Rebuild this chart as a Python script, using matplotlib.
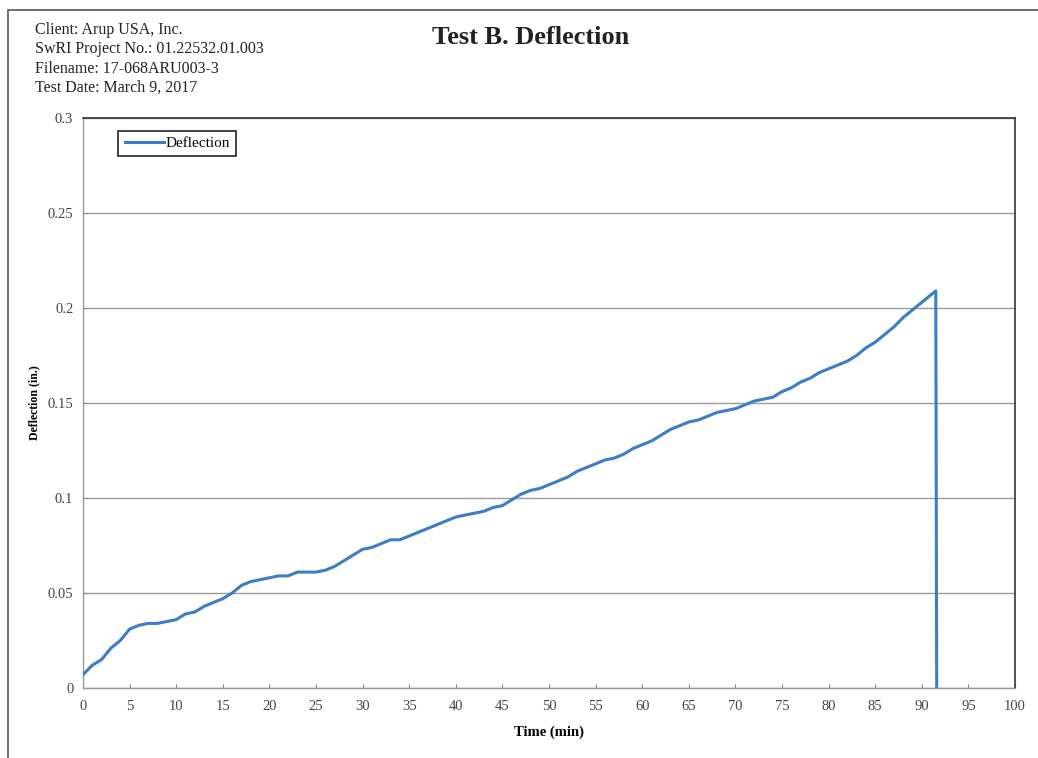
import matplotlib.pyplot as plt
from matplotlib.patches import Rectangle

# deflection record, one reading per minute, then failure at ~91.6 min
time_min = [0, 1, 2, 3, 4, 5, 6, 7, 8, 9,
            10, 11, 12, 13, 14, 15, 16, 17, 18, 19,
            20, 21, 22, 23, 24, 25, 26, 27, 28, 29,
            30, 31, 32, 33, 34, 35, 36, 37, 38, 39,
            40, 41, 42, 43, 44, 45, 46, 47, 48, 49,
            50, 51, 52, 53, 54, 55, 56, 57, 58, 59,
            60, 61, 62, 63, 64, 65, 66, 67, 68, 69,
            70, 71, 72, 73, 74, 75, 76, 77, 78, 79,
            80, 81, 82, 83, 84, 85, 86, 87, 88, 89,
            90, 91, 91.5, 91.6]
deflection = [0.007, 0.012, 0.015, 0.021, 0.025, 0.031, 0.033, 0.034, 0.034, 0.035,
              0.036, 0.039, 0.040, 0.043, 0.045, 0.047, 0.050, 0.054, 0.056, 0.057,
              0.058, 0.059, 0.059, 0.061, 0.061, 0.061, 0.062, 0.064, 0.067, 0.070,
              0.073, 0.074, 0.076, 0.078, 0.078, 0.080, 0.082, 0.084, 0.086, 0.088,
              0.090, 0.091, 0.092, 0.093, 0.095, 0.096, 0.099, 0.102, 0.104, 0.105,
              0.107, 0.109, 0.111, 0.114, 0.116, 0.118, 0.120, 0.121, 0.123, 0.126,
              0.128, 0.130, 0.133, 0.136, 0.138, 0.140, 0.141, 0.143, 0.145, 0.146,
              0.147, 0.149, 0.151, 0.152, 0.153, 0.156, 0.158, 0.161, 0.163, 0.166,
              0.168, 0.170, 0.172, 0.175, 0.179, 0.182, 0.186, 0.190, 0.195, 0.199,
              0.203, 0.207, 0.209, 0.0]

x_ticks = list(range(0, 101, 5))
y_ticks = [0, 0.05, 0.1, 0.15, 0.2, 0.25, 0.3]
y_tick_labels = ['0', '0.05', '0.1', '0.15', '0.2', '0.25', '0.3']

header = ['Client: Arup USA, Inc.',
          'SwRI Project No.: 01.22532.01.003',
          'Filename: 17-068ARU003-3',
          'Test Date: March 9, 2017']

plt.rcParams['font.family'] = ['Liberation Serif', 'DejaVu Serif']

fig = plt.figure(figsize=(10.38, 7.58), dpi=100)
fig.patch.set_facecolor('white')

# outer chart frame
fig.add_artist(Rectangle((8 / 1038, -0.01), 1.1, 1 - 10 / 758 + 0.01,
                         transform=fig.transFigure, fill=False,
                         edgecolor='#555555', linewidth=1.2))

ax = fig.add_axes([83 / 1038, 1 - 688 / 758, (1015 - 83) / 1038, (688 - 118) / 758])

ax.plot(time_min, deflection, color='#3B7DC8', linewidth=2.2,
        label='Deflection', zorder=3)

ax.set_xlim(0, 100)
ax.set_ylim(0, 0.3)
ax.set_xticks(x_ticks)
ax.set_yticks(y_ticks)
ax.set_yticklabels(y_tick_labels)
ax.grid(axis='y', color='#9A9A9A', linewidth=1.0, zorder=0)
ax.tick_params(axis='both', labelsize=10.5, labelcolor='#444444',
               color='#888888', direction='in', length=3)
ax.tick_params(axis='x', pad=9)
ax.tick_params(axis='y', pad=7)

for side in ['top', 'right']:
    ax.spines[side].set_color('#333333')
    ax.spines[side].set_linewidth(1.2)
for side in ['left', 'bottom']:
    ax.spines[side].set_color('#999999')
    ax.spines[side].set_linewidth(1.0)

ax.set_xlabel('Time (min)', fontsize=10.5, fontweight='bold', labelpad=9)
ax.set_ylabel('Deflection (in.)', fontsize=8.5, fontweight='bold', labelpad=5)

leg = ax.legend(loc='upper left', bbox_to_anchor=(0.038, 0.978), fontsize=11,
                frameon=True, fancybox=False, handlelength=2.6,
                handletextpad=0.1, borderpad=0.4, borderaxespad=0)
leg.get_frame().set_edgecolor('black')
leg.get_frame().set_linewidth(1.3)

for i, line in enumerate(header):
    fig.text(35 / 1038, 1 - (30 + i * 19.3) / 758, line, fontsize=11.5,
             ha='left', va='center', color='#222222')

fig.text(531 / 1038, 1 - 38 / 758, 'Test B. Deflection', fontsize=19,
         fontweight='bold', ha='center', va='center', color='#222222')

fig.savefig('out.png', dpi=100, facecolor='white')
